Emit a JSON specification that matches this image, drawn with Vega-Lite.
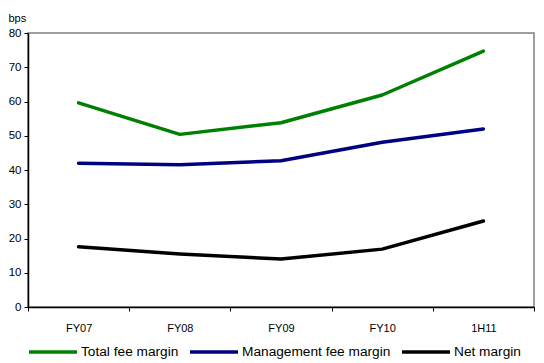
{
  "$schema": "https://vega.github.io/schema/vega-lite/v6.json",
  "width": 506,
  "height": 274,
  "autosize": "none",
  "padding": {"left": 28, "top": 33, "right": 10, "bottom": 56},
  "background": "white",
  "config": {
    "font": "Liberation Sans",
    "view": {"stroke": "#808080", "strokeWidth": 1.5},
    "axis": {"grid": false, "domainColor": "#000000", "tickColor": "#000000", "labelColor": "#000000", "labelFont": "Liberation Sans", "labelFontSize": 11}
  },
  "data": {
    "values": [
      {"period": "FY07", "series": "Total fee margin", "bps": 59.6},
      {"period": "FY08", "series": "Total fee margin", "bps": 50.4},
      {"period": "FY09", "series": "Total fee margin", "bps": 53.8},
      {"period": "FY10", "series": "Total fee margin", "bps": 61.9},
      {"period": "1H11", "series": "Total fee margin", "bps": 74.7},
      {"period": "FY07", "series": "Management fee margin", "bps": 42.0},
      {"period": "FY08", "series": "Management fee margin", "bps": 41.5},
      {"period": "FY09", "series": "Management fee margin", "bps": 42.7},
      {"period": "FY10", "series": "Management fee margin", "bps": 48.1},
      {"period": "1H11", "series": "Management fee margin", "bps": 52.0},
      {"period": "FY07", "series": "Net margin", "bps": 17.6},
      {"period": "FY08", "series": "Net margin", "bps": 15.5},
      {"period": "FY09", "series": "Net margin", "bps": 14.0},
      {"period": "FY10", "series": "Net margin", "bps": 16.9},
      {"period": "1H11", "series": "Net margin", "bps": 25.1}
    ]
  },
  "mark": {"type": "line", "strokeWidth": 3.5, "strokeCap": "round", "strokeJoin": "round"},
  "encoding": {
    "x": {
      "field": "period",
      "type": "ordinal",
      "sort": ["FY07", "FY08", "FY09", "FY10", "1H11"],
      "scale": {"type": "band", "paddingInner": 0, "paddingOuter": 0},
      "axis": {"title": null, "labelAngle": 0, "tickBand": "extent", "tickSize": 4, "labelPadding": 11, "domainWidth": 1.5}
    },
    "y": {
      "field": "bps",
      "type": "quantitative",
      "scale": {"domain": [0, 80], "nice": false},
      "axis": {
        "values": [0, 10, 20, 30, 40, 50, 60, 70, 80],
        "tickSize": 4,
        "labelPadding": 3,
        "labelFontSize": 11.5,
        "domainWidth": 1.5,
        "title": "bps",
        "titleAngle": 0,
        "titleFont": "Liberation Sans",
        "titleFontSize": 11,
        "titleFontWeight": "normal",
        "titleAlign": "left",
        "titleBaseline": "alphabetic",
        "titleX": -20,
        "titleY": -12
      }
    },
    "color": {
      "field": "series",
      "type": "nominal",
      "scale": {
        "domain": ["Total fee margin", "Management fee margin", "Net margin"],
        "range": ["#008000", "#000080", "#000000"]
      },
      "legend": {
        "title": null,
        "orient": "none",
        "direction": "horizontal",
        "legendX": -1,
        "legendY": 293,
        "padding": 0,
        "symbolType": "stroke",
        "symbolSize": 2304,
        "symbolStrokeWidth": 3.5,
        "labelFont": "Liberation Sans",
        "labelFontSize": 13.7,
        "labelColor": "#000000",
        "labelOffset": 2,
        "columnPadding": 4,
        "labelLimit": 300
      }
    }
  }
}
